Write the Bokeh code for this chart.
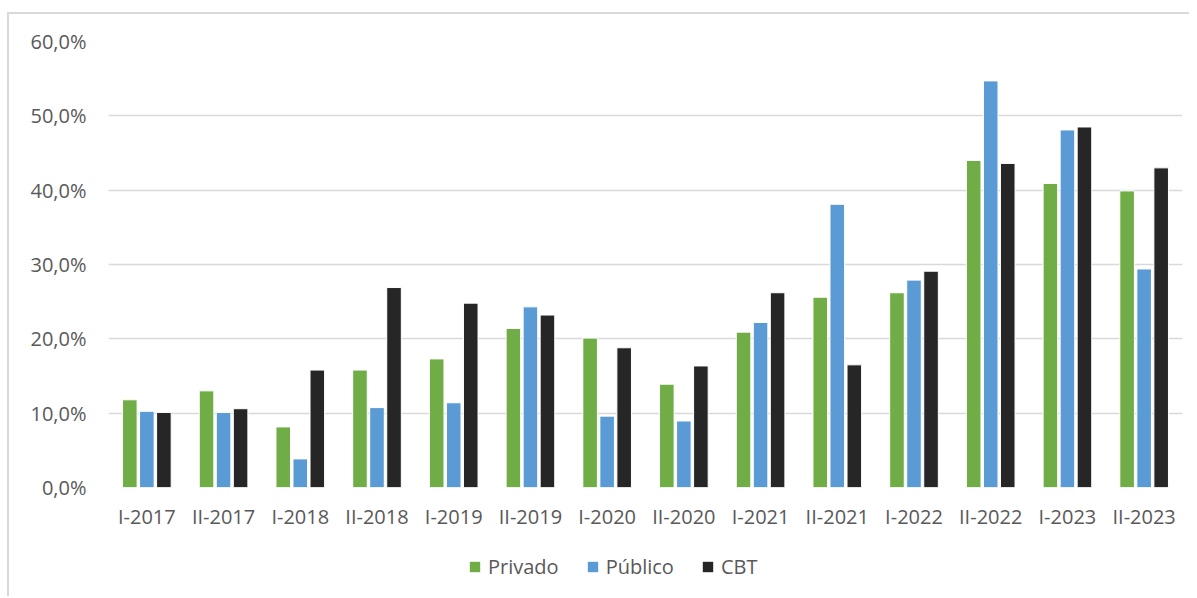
from bokeh.plotting import figure
from bokeh.layouts import column
from bokeh.models import (ColumnDataSource, FactorRange, Range1d, FixedTicker, Legend,
                          LegendItem)
from bokeh.transform import dodge
from bokeh.embed import file_html
from bokeh.resources import INLINE

periods = ["I-2017", "II-2017", "I-2018", "II-2018", "I-2019", "II-2019", "I-2020",
           "II-2020", "I-2021", "II-2021", "I-2022", "II-2022", "I-2023", "II-2023"]
privado = [11.8, 13.0, 8.15, 15.8, 17.3, 21.4, 20.1, 13.9, 20.9, 25.6, 26.2, 44.0, 40.9, 39.9]
publico = [10.25, 10.1, 3.85, 10.75, 11.4, 24.3, 9.6, 8.95, 22.2, 38.1, 27.9, 54.7, 48.1, 29.4]
cbt = [10.1, 10.6, 15.8, 26.9, 24.8, 23.2, 18.8, 16.35, 26.2, 16.5, 29.1, 43.6, 48.5, 43.0]
y_ticks = [0, 10, 20, 30, 40, 50, 60]
series_names = ["Privado", "Público", "CBT"]
series_cols = ["privado", "publico", "cbt"]
colors = ["#70AD47", "#5B9BD5", "#262626"]

src = ColumnDataSource(dict(x=periods, privado=privado, publico=publico, cbt=cbt))

font = "Open Sans"
txt_color = "#595959"
fs = "20px"
edge = "#D9D9D9"

p_styles = {
    "background-color": "white",
    "background-image": f"linear-gradient({edge},{edge}), linear-gradient({edge},{edge})",
    "background-size": "2px 100%, 100% 2px",
    "background-position": "7px 12px, 7px 12px",
    "background-repeat": "no-repeat",
}
q_styles = {
    "background-color": "white",
    "background-image": f"linear-gradient({edge},{edge})",
    "background-size": "2px 100%",
    "background-position": "7px 0px",
    "background-repeat": "no-repeat",
}

p = figure(width=1189, height=540, x_range=FactorRange(*periods, range_padding=0),
           y_range=Range1d(0, 60), output_backend="svg", toolbar_location=None,
           min_border_left=108, min_border_right=7, min_border_top=41, min_border_bottom=53,
           styles=p_styles)
p.outline_line_color = None
p.background_fill_color = "white"
p.border_fill_color = None

for i, (col, c) in enumerate(zip(series_cols, colors)):
    p.vbar(x=dodge("x", (i - 1) * 0.222, range=p.x_range), top=col, width=0.19,
           source=src, fill_color=c, line_color="white", line_width=1)

p.xgrid.grid_line_color = None
p.ygrid.grid_line_color = "#D9D9D9"
p.ygrid.grid_line_width = 1.5
p.yaxis.ticker = FixedTicker(ticks=y_ticks)
p.yaxis.major_label_overrides = {t: f"{t:.1f}".replace(".", ",") + "%" for t in y_ticks}

for ax in (p.xaxis, p.yaxis):
    ax.axis_line_color = None
    ax.major_tick_line_color = None
    ax.minor_tick_line_color = None
    ax.major_tick_out = 0
    ax.major_tick_in = 0
    ax.minor_tick_out = 0
    ax.major_label_text_font = font
    ax.major_label_text_font_size = fs
    ax.major_label_text_color = txt_color
p.yaxis.major_label_standoff = 22
p.xaxis.major_label_standoff = 15

# legend strip below the chart
q = figure(width=1189, height=56, x_range=FactorRange(*periods, range_padding=0),
           y_range=Range1d(0, 60), output_backend="svg", toolbar_location=None,
           x_axis_location=None, y_axis_location=None,
           min_border_left=0, min_border_right=0, min_border_top=0, min_border_bottom=0,
           styles=q_styles)
q.outline_line_color = None
q.xgrid.grid_line_color = None
q.ygrid.grid_line_color = None
q.border_fill_color = None
q.background_fill_color = None

items = []
for col, name, c in zip(series_cols, series_names, colors):
    r = q.vbar(x="x", top=col, width=0.19, source=src, fill_color=c,
               line_color=c, line_width=0, visible=False)
    items.append(LegendItem(label=name, renderers=[r]))

legend = Legend(items=items, orientation="horizontal", location=(360, 16),
                label_text_font=font, label_text_font_size=fs, label_text_color=txt_color,
                glyph_width=13, glyph_height=13, label_standoff=7, spacing=27,
                border_line_color=None, background_fill_alpha=0, margin=0, padding=5,
                click_policy="none")
q.add_layout(legend)

layout = column(p, q, spacing=0)
open("out.html", "w").write(file_html(layout, INLINE))
